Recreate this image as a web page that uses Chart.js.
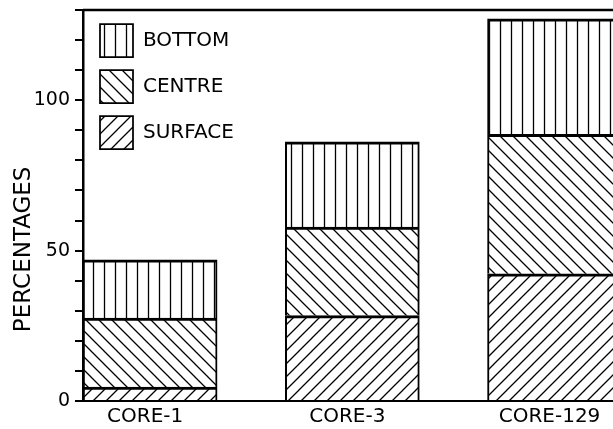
<!DOCTYPE html>
<html>
<head>
<meta charset="utf-8">
<script src="https://cdn.jsdelivr.net/npm/chart.js@4.4.1/dist/chart.umd.min.js"></script>
<style>
  html, body { margin: 0; padding: 0; background: #fff; overflow: hidden; }
  #wrap { width: 700px; height: 429px; }
</style>
</head>
<body>
<div id="wrap"><canvas id="cores" width="700" height="429"></canvas></div>
<script>
const coreNames = ['CORE-1', 'CORE-3', 'CORE-129'];
const surface = [4.6, 28.4, 42.3];
const centre = [23.0, 29.4, 46.4];
const bottom = [19.3, 28.4, 38.4];
const yLabelEvery = 50;

function hatch(kind) {
  const c = document.createElement('canvas');
  const s = kind === 'vertical' ? 11 : 13;
  c.width = s;
  c.height = s;
  const g = c.getContext('2d');
  g.fillStyle = '#fff';
  g.fillRect(0, 0, s, s);
  g.strokeStyle = '#000';
  g.lineWidth = 1.3;
  g.beginPath();
  if (kind === 'vertical') {
    g.moveTo(s / 2, 0); g.lineTo(s / 2, s);
  } else if (kind === 'down') {
    g.moveTo(-1, -1); g.lineTo(s + 1, s + 1);
    g.moveTo(s - 1, -1); g.lineTo(s + 1, 1);
    g.moveTo(-1, s - 1); g.lineTo(1, s + 1);
  } else {
    g.moveTo(-1, s + 1); g.lineTo(s + 1, -1);
    g.moveTo(-1, 1); g.lineTo(1, -1);
    g.moveTo(s - 1, s + 1); g.lineTo(s + 1, s - 1);
  }
  g.stroke();
  return g.createPattern(c, 'repeat');
}

function series(values) {
  return values.map((v, i) => ({ x: i + 1, y: v }));
}

// top frame line + nudge the in-plot legend
const frameTop = {
  id: 'frameTop',
  afterLayout(chart) {
    const lg = chart.legend;
    const dx = chart.chartArea.left + 4 - lg.left;
    const dy = chart.chartArea.top + 1 - lg.top;
    lg.left += dx; lg.right += dx;
    lg.top += dy; lg.bottom += dy;
  },
  afterDraw(chart) {
    const { ctx, chartArea } = chart;
    ctx.save();
    ctx.strokeStyle = '#000';
    ctx.lineWidth = 2.5;
    ctx.beginPath();
    ctx.moveTo(chartArea.left, chartArea.top);
    ctx.lineTo(chartArea.right, chartArea.top);
    ctx.stroke();
    ctx.restore();
  }
};

Chart.defaults.font.family = 'DejaVu Sans';
Chart.defaults.color = '#000';

const barStyle = {
  borderColor: '#000',
  borderWidth: { top: 3, left: 2, right: 2, bottom: 0 },
  borderSkipped: false,
  barThickness: 134
};

new Chart(document.getElementById('cores').getContext('2d'), {
  type: 'bar',
  data: {
    datasets: [
      Object.assign({ label: 'SURFACE', data: series(surface), backgroundColor: hatch('up') }, barStyle),
      Object.assign({ label: 'CENTRE', data: series(centre), backgroundColor: hatch('down') }, barStyle),
      Object.assign({ label: 'BOTTOM', data: series(bottom), backgroundColor: hatch('vertical') }, barStyle)
    ]
  },
  options: {
    responsive: false,
    animation: false,
    layout: { padding: { top: 10, right: 10, bottom: 0, left: 0 } },
    plugins: {
      tooltip: { enabled: false },
      legend: {
        position: 'chartArea',
        align: 'start',
        reverse: true,
        labels: {
          boxWidth: 33,
          boxHeight: 33,
          padding: 13,
          font: { size: 20 },
          color: '#000'
        }
      }
    },
    scales: {
      x: {
        type: 'linear',
        stacked: true,
        offset: false,
        min: 0.668,
        max: 3.67,
        grid: { display: false, drawTicks: false, offset: false },
        border: { display: true, color: '#000', width: 2 },
        afterFit(scale) { scale.height = 28; },
        afterBuildTicks(scale) {
          scale.ticks = coreNames.map((_, i) => ({ value: i + 1 }));
        },
        ticks: {
          padding: 4,
          labelOffset: -5,
          font: { size: 20 },
          callback: (value) => coreNames[value - 1] || ''
        }
      },
      y: {
        stacked: true,
        min: 0,
        max: 130,
        afterFit(scale) {
          scale.width = 83;
          scale.paddingTop = 0;
          scale.paddingBottom = 0;
        },
        grid: {
          display: true,
          drawOnChartArea: false,
          drawTicks: true,
          tickLength: 8,
          color: '#000',
          lineWidth: 2
        },
        border: { display: true, color: '#000', width: 2.5 },
        ticks: {
          stepSize: 10,
          padding: 5,
          font: { size: 19 },
          callback: (value) => (value % yLabelEvery === 0 ? value : '')
        },
        title: {
          display: true,
          text: 'PERCENTAGES' + ' '.repeat(12),
          font: { size: 23 },
          padding: { top: 10, bottom: 0 }
        }
      }
    }
  },
  plugins: [frameTop]
});
</script>
</body>
</html>
